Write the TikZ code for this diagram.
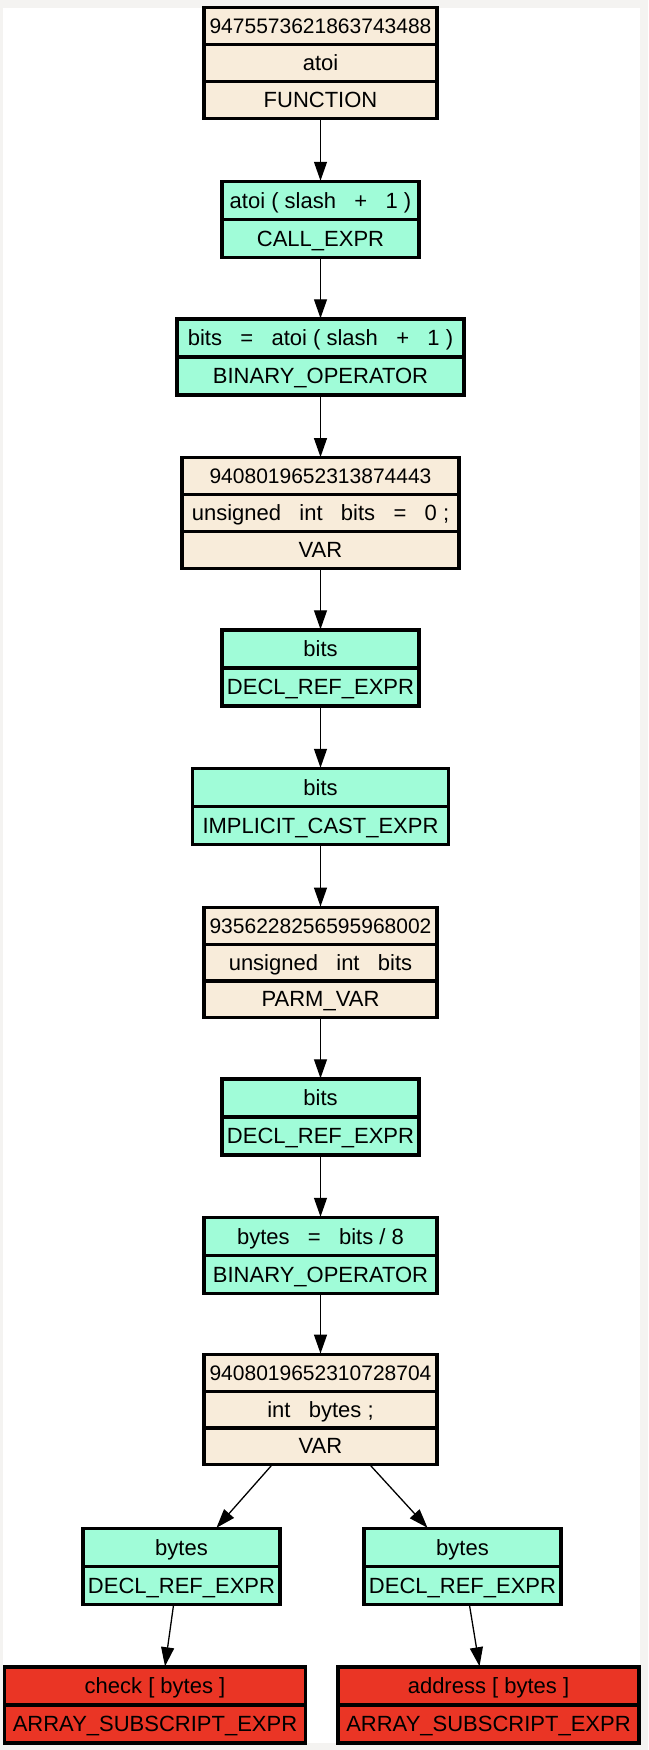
\documentclass[tikz,border=0pt]{standalone}
\usepackage{fontspec}
\setmainfont{Liberation Sans}
\usetikzlibrary{shapes.multipart,arrows.meta}
\definecolor{declbg}{RGB}{248,236,218}
\definecolor{exprbg}{RGB}{160,252,216}
\definecolor{subbg}{RGB}{234,53,37}
\definecolor{pagebg}{RGB}{244,243,241}
\newcommand{\rowstrut}{\rule[-10.5pt]{0pt}{36.5pt}}
\newcommand{\declstrut}{\rule[-10pt]{0pt}{35.3pt}}
\newcommand{\gapsp}{\ \ \ }
\newcommand{\idfont}{\fontsize{21}{25}\selectfont}
\tikzset{
  astbox/.style={rectangle split, rectangle split parts=#1, draw=black,
    line width=1.5pt, inner xsep=2pt, inner ysep=0pt,
    font=\fontsize{22}{26}\selectfont,
    postaction={draw=black, line width=3.2pt}},
  declbox/.style={astbox=3, fill=declbg},
  exprbox/.style={astbox=2, fill=exprbg},
  subbox/.style={astbox=2, fill=subbg},
}

\begin{document}
\begin{tikzpicture}[x=1pt, y=-1pt, >={Triangle[length=19pt,width=13pt]}, line width=1.3pt]
\fill[pagebg] (0,0) rectangle (648,1750);
\fill[white] (3,8) rectangle (640,1743);
\useasboundingbox (0,0) rectangle (648,1750);
\node[declbox, minimum width=233pt] (atoifn) at (320.5,63) {\declstrut\idfont 9475573621863743488\nodepart{two}\declstrut atoi\nodepart{three}\declstrut FUNCTION};
\node[exprbox, minimum width=197pt] (atoicall) at (320.5,219.5) {\rowstrut atoi ( slash\gapsp+\gapsp1 )\nodepart{two}\rowstrut CALL\_EXPR};
\node[exprbox, minimum width=287pt] (bitsassign) at (320.5,357) {\rowstrut bits\gapsp=\gapsp atoi ( slash\gapsp+\gapsp1 )\nodepart{two}\rowstrut BINARY\_OPERATOR};
\node[declbox, minimum width=277pt] (bitsvar) at (320.5,513) {\declstrut\idfont 9408019652313874443\nodepart{two}\declstrut unsigned\gapsp int\gapsp bits\gapsp=\gapsp0 ;\nodepart{three}\declstrut VAR};
\node[exprbox, minimum width=197pt] (bitsref) at (320.5,668) {\rowstrut bits\nodepart{two}\rowstrut DECL\_REF\_EXPR};
\node[exprbox, minimum width=256pt] (bitscast) at (320.5,806.5) {\rowstrut bits\nodepart{two}\rowstrut IMPLICIT\_CAST\_EXPR};
\node[declbox, minimum width=233pt] (bitsparm) at (320.5,962.5) {\declstrut\idfont 9356228256595968002\nodepart{two}\declstrut unsigned\gapsp int\gapsp bits\nodepart{three}\declstrut PARM\_VAR};
\node[exprbox, minimum width=197pt] (bitsref2) at (320.5,1117) {\rowstrut bits\nodepart{two}\rowstrut DECL\_REF\_EXPR};
\node[exprbox, minimum width=233pt] (bytesassign) at (320.5,1255.5) {\rowstrut bytes\gapsp=\gapsp bits / 8\nodepart{two}\rowstrut BINARY\_OPERATOR};
\node[declbox, minimum width=233pt] (bytesvar) at (320.5,1409.5) {\declstrut\idfont 9408019652310728704\nodepart{two}\declstrut int\gapsp bytes ;\nodepart{three}\declstrut VAR};
\node[exprbox, minimum width=197pt] (bytesrefl) at (181.5,1566.5) {\rowstrut bytes\nodepart{two}\rowstrut DECL\_REF\_EXPR};
\node[exprbox, minimum width=197pt] (bytesrefr) at (462.5,1566.5) {\rowstrut bytes\nodepart{two}\rowstrut DECL\_REF\_EXPR};
\node[subbox, minimum width=301pt] (checksub) at (155,1705) {\rowstrut check [ bytes ]\nodepart{two}\rowstrut ARRAY\_SUBSCRIPT\_EXPR};
\node[subbox, minimum width=301pt] (addresssub) at (488.5,1705) {\rowstrut address [ bytes ]\nodepart{two}\rowstrut ARRAY\_SUBSCRIPT\_EXPR};
\draw[->] (atoifn.south) -- (atoicall.north);
\draw[->] (atoicall.south) -- (bitsassign.north);
\draw[->] (bitsassign.south) -- (bitsvar.north);
\draw[->] (bitsvar.south) -- (bitsref.north);
\draw[->] (bitsref.south) -- (bitscast.north);
\draw[->] (bitscast.south) -- (bitsparm.north);
\draw[->] (bitsparm.south) -- (bitsref2.north);
\draw[->] (bitsref2.south) -- (bytesassign.north);
\draw[->] (bytesassign.south) -- (bytesvar.north);
\draw[->] ([xshift=-49pt]bytesvar.south) -- ([xshift=35pt]bytesrefl.north);
\draw[->] ([xshift=50pt]bytesvar.south) -- ([xshift=-35pt]bytesrefr.north);
\draw[->] ([xshift=-8pt]bytesrefl.south) -- ([xshift=10pt]checksub.north);
\draw[->] ([xshift=7pt]bytesrefr.south) -- ([xshift=-9pt]addresssub.north);
\end{tikzpicture}
\end{document}
